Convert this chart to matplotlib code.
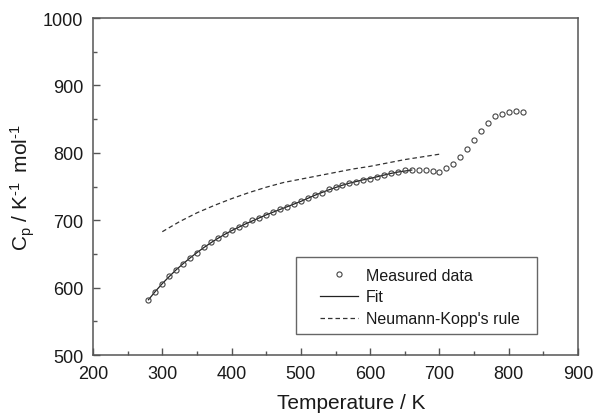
import matplotlib
matplotlib.use("Agg")
import matplotlib.pyplot as plt
from matplotlib.ticker import MultipleLocator
from matplotlib.patches import Rectangle

plt.rcParams['font.family'] = ['Liberation Sans', 'DejaVu Sans']
plt.rcParams['mathtext.fontset'] = 'custom'
plt.rcParams['mathtext.rm'] = 'Liberation Sans'
plt.rcParams['mathtext.it'] = 'Liberation Sans:italic'

# Measured data
meas_T = [280, 290, 300, 310, 320, 330, 340, 350, 360, 370, 380, 390, 400, 410, 420,
          430, 440, 450, 460, 470, 480, 490, 500, 510, 520, 530, 540, 550, 560, 570,
          580, 590, 600, 610, 620, 630, 640, 650, 660, 670, 680, 690, 700, 710, 720,
          730, 740, 750, 760, 770, 780, 790, 800, 810, 820]
meas_Cp = [582, 594, 606, 617, 626, 635, 644, 652, 660, 667, 674, 680, 685, 690, 695,
           700, 704, 708, 712, 716, 720, 724, 728, 733, 737, 741, 746, 750, 752, 755,
           757, 759, 761, 764, 767, 770, 772, 774, 775, 775, 774, 773, 771, 777, 784,
           794, 806, 819, 833, 844, 854, 858, 861, 862, 861]

# Fit
fit_T = [280, 290, 300, 310, 320, 330, 340, 350, 360, 370, 380, 390, 400, 410, 420,
         430, 440, 450, 460, 470, 480, 490, 500, 510, 520, 530, 540, 550, 560, 570,
         580, 590, 600, 610, 620, 630, 640, 650, 660]
fit_Cp = [582, 594.5, 606, 616.5, 626.5, 635.5, 644, 652, 659.5, 666.5, 673, 679, 684.5,
          689.5, 694.5, 699, 703.5, 708, 712, 716, 720, 724, 728, 732.5, 737, 741, 745,
          748.5, 752, 755, 757.5, 760, 762, 764.5, 767, 769.5, 771.5, 773, 774.5]

# Neumann-Kopp's rule
nk_T = [300, 325, 350, 375, 400, 425, 450, 475, 500, 525, 550, 575, 600, 625, 650, 675, 700]
nk_Cp = [683, 698, 711, 722, 732, 741, 749, 756, 761, 766, 771, 776, 780, 785, 790, 794, 798]

fig = plt.figure(figsize=(5.99, 4.14), dpi=100)
ax = fig.add_axes([0.1553, 0.140, 0.8097, 0.814])

spine_c = '#555555'
text_c = '#1a1a1a'

ax.plot(meas_T, meas_Cp, linestyle='none', marker='o', markersize=3.7,
        markerfacecolor='none', markeredgecolor='#444444', markeredgewidth=0.8,
        label='Measured data', zorder=3)
ax.plot(fit_T, fit_Cp, color='#222222', lw=0.9, label='Fit', zorder=2)
ax.plot(nk_T, nk_Cp, color='#333333', lw=0.9, dashes=(3.6, 2.4),
        label="Neumann-Kopp's rule", zorder=2)

ax.set_xlim(200, 900)
ax.set_ylim(500, 1000)
ax.xaxis.set_major_locator(MultipleLocator(100))
ax.xaxis.set_minor_locator(MultipleLocator(50))
ax.yaxis.set_major_locator(MultipleLocator(100))
ax.yaxis.set_minor_locator(MultipleLocator(50))

for s in ax.spines.values():
    s.set_color(spine_c)
    s.set_linewidth(1.1)

ax.tick_params(which='both', direction='in', top=False, right=False,
               color=spine_c, labelcolor=text_c)
ax.tick_params(which='major', length=5, width=1.0, labelsize=13, pad=7)
ax.tick_params(which='minor', length=3, width=1.0)

ax.set_xlabel('Temperature / K', fontsize=15, color=text_c)
ax.xaxis.set_label_coords(0.532, -0.114)
ax.xaxis.label.set_verticalalignment('top')
ax.set_ylabel('C$_\\mathregular{p}$ / K$^\\mathregular{\u20101}$\u2009 mol$^\\mathregular{\u20101}$',
              fontsize=15, color=text_c)
ax.yaxis.set_label_coords(-0.115, 0.5)

# legend frame
ax.add_patch(Rectangle((0.419, 0.062), 0.496, 0.229, transform=ax.transAxes,
                       facecolor='white', edgecolor='#666666', lw=1.0, zorder=4))
leg = ax.legend(loc='upper left', bbox_to_anchor=(0.468, 0.259),
                borderaxespad=0, fontsize=11.5, numpoints=1,
                handlelength=2.4, handletextpad=0.45, labelspacing=0.42,
                frameon=False, borderpad=0)
leg.set_zorder(5)
for t in leg.get_texts():
    t.set_color(text_c)

fig.savefig('out.png', dpi=100)
